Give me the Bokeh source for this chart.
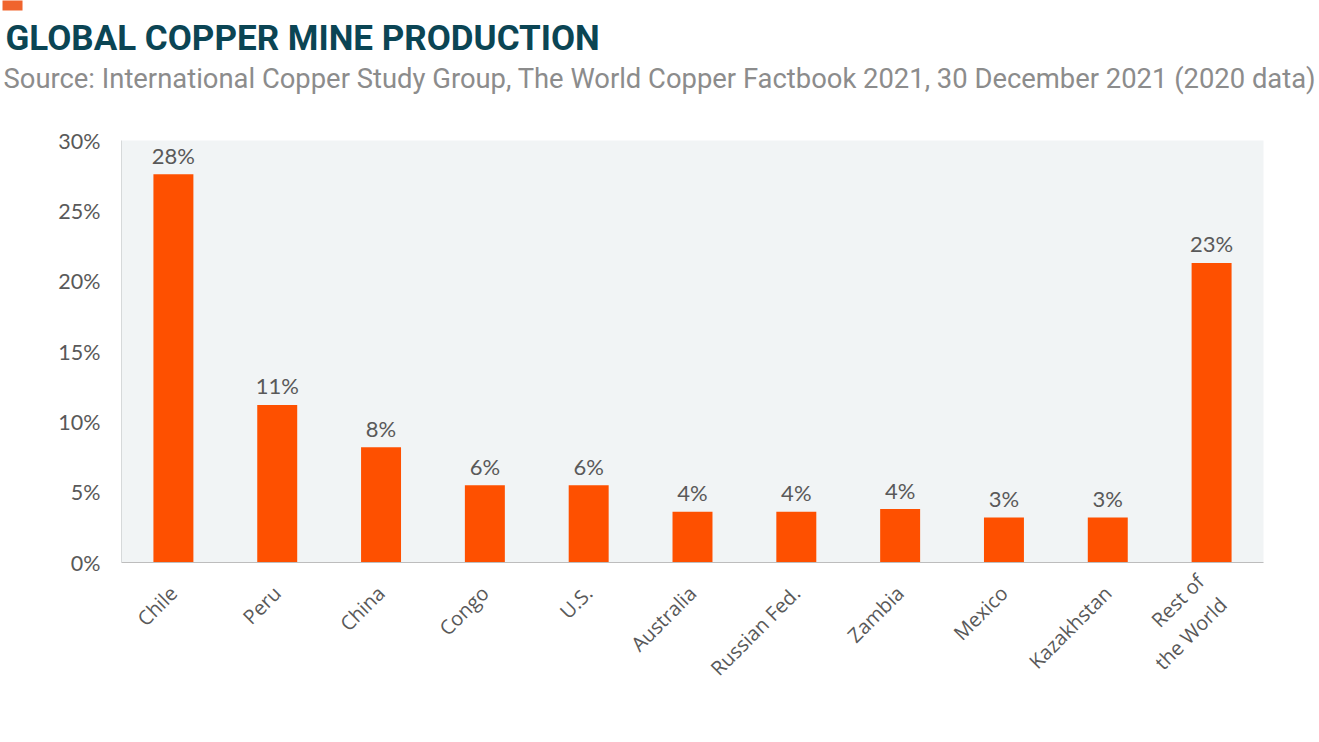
from bokeh.plotting import figure
from bokeh.models import ColumnDataSource, FactorRange, Range1d, FixedTicker, CustomJSTickFormatter, Title
from bokeh.core.properties import value
from bokeh.embed import file_html
from bokeh.resources import INLINE

# ---- data ----
countries = ["Chile", "Peru", "China", "Congo", "U.S.", "Australia", "Russian Fed.",
             "Zambia", "Mexico", "Kazakhstan", "Rest of\nthe World"]
shares = [27.6, 11.2, 8.2, 5.5, 5.5, 3.6, 3.6, 3.8, 3.2, 3.2, 21.3]
share_labels = ["28%", "11%", "8%", "6%", "6%", "4%", "4%", "4%", "3%", "3%", "23%"]
y_ticks = [0, 5, 10, 15, 20, 25, 30]

title_text = "GLOBAL COPPER MINE PRODUCTION"
subtitle_text = ("Source: International Copper Study Group, The World Copper Factbook 2021, "
                 "30 December 2021 (2020 data)")

ORANGE = "#FE5000"
TEXT_GRAY = "#595959"
W = 1316
H = 740
FRAME_L = 121

src = ColumnDataSource(data=dict(country=countries, share=shares, label=share_labels))

p = figure(width=W, height=H, x_range=FactorRange(factors=countries),
           y_range=Range1d(0, 30), output_backend="svg", toolbar_location=None,
           min_border_left=FRAME_L, min_border_right=W - 1263, min_border_top=140,
           min_border_bottom=H - 562)

p.background_fill_color = "#F1F4F5"
p.border_fill_color = "white"
p.outline_line_color = None
p.xgrid.grid_line_color = None
p.ygrid.grid_line_color = None

p.vbar(x="country", top="share", width=0.385, source=src, fill_color=ORANGE,
       line_color=None)
p.text(x="country", y="share", text="label", source=src, y_offset=-19,
       text_align="center", text_baseline="alphabetic", text_color=TEXT_GRAY,
       text_font=value("Lato"), text_font_size="22px")

# y axis
p.yaxis.ticker = FixedTicker(ticks=y_ticks)
p.yaxis.formatter = CustomJSTickFormatter(code="return tick + '%';")
p.yaxis.axis_line_color = "#D6D9DA"
p.yaxis.major_tick_line_color = None
p.yaxis.minor_tick_line_color = None
p.yaxis.major_label_standoff = 15
p.yaxis.major_label_text_font = "Lato"
p.yaxis.major_label_text_font_size = "21.5px"
p.yaxis.major_label_text_color = TEXT_GRAY

# x axis
p.xaxis.axis_line_color = "#BDBDBD"
p.xaxis.major_tick_line_color = None
p.xaxis.minor_tick_line_color = None
p.xaxis.major_label_orientation = 0.785398
p.xaxis.major_label_standoff = 21
p.xaxis.major_label_text_font = "Open Sans"
p.xaxis.major_label_text_font_size = "20px"
p.xaxis.major_label_text_color = TEXT_GRAY

# header (panels stack outward from the plot: spacer, subtitle, title, mark)
p.add_layout(Title(text=" ", align="left", offset=0, text_font_size="1px",
                   standoff=41), "above")
p.add_layout(Title(text=subtitle_text, align="left", offset=3 - FRAME_L,
                   vertical_align="top", text_font="Roboto", text_font_style="normal",
                   text_font_size="27.4px", text_color="#8C8C8C", standoff=0), "above")
p.add_layout(Title(text=title_text, align="left", offset=5 - FRAME_L,
                   vertical_align="bottom", text_font="Roboto", text_font_style="bold",
                   text_font_size="35px", text_color="#0B4554", standoff=7), "above")
p.add_layout(Title(text="\u2003\u2003\u2004", align="left", offset=2 - FRAME_L,
                   vertical_align="top", text_font="DejaVu Sans", text_font_style="normal",
                   text_font_size="8.6px", background_fill_color="#F0642D",
                   border_line_color=None, standoff=0), "above")

open("out.html", "w").write(file_html(p, INLINE))
